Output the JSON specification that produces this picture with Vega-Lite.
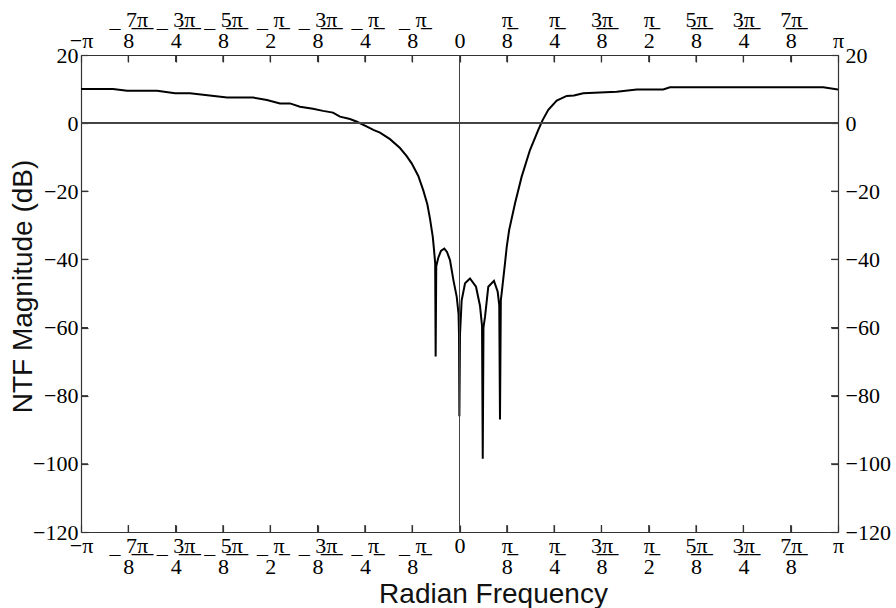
{
  "$schema": "https://vega.github.io/schema/vega-lite/v6.json",
  "width": 757,
  "height": 477,
  "autosize": "none",
  "padding": {"left": 81, "top": 55, "right": 58, "bottom": 76},
  "background": "white",
  "config": {
    "view": {"stroke": null},
    "axis": {
      "grid": false,
      "labelFont": "Liberation Serif",
      "labelFontSize": 22,
      "labelLineHeight": 21,
      "labelColor": "black",
      "domainColor": "#333",
      "domainWidth": 1.2,
      "tickColor": "#333",
      "tickWidth": 1.2,
      "tickSize": -7,
      "labelOverlap": false,
      "labelFlush": false,
      "labelBound": false,
      "titleFont": "Liberation Sans",
      "titleFontSize": 28,
      "titleFontWeight": "normal",
      "titleColor": "#111"
    }
  },
  "datasets": {
    "xticks": [
      {"w": -2.74889357}, {"w": -2.35619449}, {"w": -1.96349541}, {"w": -1.57079633},
      {"w": -1.17809725}, {"w": -0.78539816}, {"w": -0.39269908}, {"w": 0.39269908},
      {"w": 0.78539816}, {"w": 1.17809725}, {"w": 1.57079633}, {"w": 1.96349541},
      {"w": 2.35619449}, {"w": 2.74889357}
    ],
    "yticks": [
      {"db": -100}, {"db": -80}, {"db": -60}, {"db": -40}, {"db": -20}
    ]
  },
  "data": {"values": [
    {"w": -3.1416, "db": 10.0},
    {"w": -2.876, "db": 10.0},
    {"w": -2.759, "db": 9.5},
    {"w": -2.510, "db": 9.5},
    {"w": -2.361, "db": 8.8},
    {"w": -2.237, "db": 8.8},
    {"w": -1.929, "db": 7.5},
    {"w": -1.714, "db": 7.5},
    {"w": -1.598, "db": 6.8},
    {"w": -1.490, "db": 5.8},
    {"w": -1.407, "db": 5.8},
    {"w": -1.324, "db": 4.8},
    {"w": -1.216, "db": 4.2},
    {"w": -1.133, "db": 3.6},
    {"w": -1.050, "db": 3.1},
    {"w": -0.992, "db": 1.9},
    {"w": -0.909, "db": 1.2},
    {"w": -0.851, "db": 0.4},
    {"w": -0.768, "db": -1.0},
    {"w": -0.715, "db": -2.0},
    {"w": -0.660, "db": -2.8},
    {"w": -0.577, "db": -4.7},
    {"w": -0.494, "db": -7.3},
    {"w": -0.440, "db": -9.6},
    {"w": -0.397, "db": -11.8},
    {"w": -0.342, "db": -15.5},
    {"w": -0.300, "db": -19.8},
    {"w": -0.267, "db": -23.8},
    {"w": -0.245, "db": -28.0},
    {"w": -0.222, "db": -33.3},
    {"w": -0.212, "db": -37.0},
    {"w": -0.202, "db": -41.0},
    {"w": -0.198, "db": -68.5},
    {"w": -0.193, "db": -42.0},
    {"w": -0.176, "db": -39.5},
    {"w": -0.154, "db": -37.5},
    {"w": -0.126, "db": -36.8},
    {"w": -0.104, "db": -37.8},
    {"w": -0.079, "db": -40.2},
    {"w": -0.051, "db": -46.0},
    {"w": -0.023, "db": -51.0},
    {"w": -0.008, "db": -56.0},
    {"w": -0.004, "db": -62.0},
    {"w": -0.001, "db": -86.0},
    {"w": 0.004, "db": -62.0},
    {"w": 0.018, "db": -52.0},
    {"w": 0.046, "db": -47.0},
    {"w": 0.087, "db": -45.6},
    {"w": 0.137, "db": -48.0},
    {"w": 0.170, "db": -53.6},
    {"w": 0.187, "db": -59.5},
    {"w": 0.193, "db": -98.5},
    {"w": 0.199, "db": -60.0},
    {"w": 0.212, "db": -56.8},
    {"w": 0.239, "db": -48.0},
    {"w": 0.286, "db": -46.3},
    {"w": 0.317, "db": -49.5},
    {"w": 0.330, "db": -53.5},
    {"w": 0.336, "db": -87.0},
    {"w": 0.343, "db": -52.0},
    {"w": 0.350, "db": -49.9},
    {"w": 0.378, "db": -41.0},
    {"w": 0.392, "db": -36.3},
    {"w": 0.412, "db": -31.4},
    {"w": 0.461, "db": -23.5},
    {"w": 0.516, "db": -15.7},
    {"w": 0.585, "db": -7.9},
    {"w": 0.654, "db": -2.0},
    {"w": 0.690, "db": 0.9},
    {"w": 0.737, "db": 3.9},
    {"w": 0.807, "db": 6.6},
    {"w": 0.890, "db": 8.0},
    {"w": 0.950, "db": 8.1},
    {"w": 1.027, "db": 8.8},
    {"w": 1.305, "db": 9.2},
    {"w": 1.471, "db": 9.9},
    {"w": 1.691, "db": 9.9},
    {"w": 1.747, "db": 10.5},
    {"w": 3.019, "db": 10.5},
    {"w": 3.1416, "db": 9.9}
  ]},
  "layer": [
    {
      "mark": {"type": "line", "color": "black", "strokeWidth": 2, "clip": true},
      "encoding": {
        "x": {
          "field": "w", "type": "quantitative",
          "scale": {"domain": [-3.14159265, 3.14159265], "nice": false, "zero": false},
          "axis": {
            "orient": "bottom",
            "title": "Radian Frequency",
            "titleX": 412,
            "titleY": 70,
            "titleAlign": "center",
            "titleBaseline": "alphabetic",
            "labelFontSize": 22,
            "labelPadding": 10,
            "values": [-3.14159265, -2.74889357, -2.35619449, -1.96349541, -1.57079633, -1.17809725, -0.78539816, -0.39269908, 0, 0.39269908, 0.78539816, 1.17809725, 1.57079633, 1.96349541, 2.35619449, 2.74889357, 3.14159265],
            "labelExpr": "[['\u2212\u03c0'],['_\u00a07\u0332\u03c0\u0332','\u00a0\u00a0\u00a08'],['_\u00a03\u0332\u03c0\u0332','\u00a0\u00a0\u00a04'],['_\u00a05\u0332\u03c0\u0332','\u00a0\u00a0\u00a08'],['_\u00a0\u03c0\u0332','\u00a0\u00a0\u00a02'],['_\u00a03\u0332\u03c0\u0332','\u00a0\u00a0\u00a08'],['_\u00a0\u03c0\u0332','\u00a0\u00a0\u00a04'],['_\u00a0\u03c0\u0332','\u00a0\u00a0\u00a08'],['0'],['\u03c0\u0332','8'],['\u03c0\u0332','4'],['3\u0332\u03c0\u0332','8'],['\u03c0\u0332','2'],['5\u0332\u03c0\u0332','8'],['3\u0332\u03c0\u0332','4'],['7\u0332\u03c0\u0332','8'],['\u03c0']][round(datum.value*8/PI)+8]"
          }
        },
        "y": {
          "field": "db", "type": "quantitative",
          "scale": {"domain": [-120, 20], "nice": false, "zero": false},
          "axis": {
            "orient": "left",
            "title": "NTF Magnitude (dB)",
            "titleAngle": -90,
            "titleX": -50,
            "titleY": 231,
            "titleAlign": "center",
            "titleBaseline": "alphabetic",
            "labelFontSize": 22,
            "labelPadding": 10,
            "values": [-120, -100, -80, -60, -40, -20, 0, 20],
            "labelExpr": "replace(datum.label, '-', '\u2212')"
          }
        }
      }
    },
    {
      "mark": {"type": "rule", "color": "#444", "strokeWidth": 1},
      "encoding": {
        "y": {
          "datum": 0, "type": "quantitative",
          "axis": {
            "orient": "right",
            "title": null,
            "labelFontSize": 22,
            "labelPadding": 14,
            "values": [-120, -100, -80, -60, -40, -20, 0, 20],
            "labelExpr": "replace(datum.label, '-', '\u2212')"
          }
        }
      }
    },
    {
      "mark": {"type": "rule", "color": "#444", "strokeWidth": 1},
      "encoding": {
        "x": {
          "datum": 0, "type": "quantitative",
          "axis": {
            "orient": "top",
            "title": null,
            "labelFontSize": 22,
            "labelPadding": 31,
            "values": [-3.14159265, -2.74889357, -2.35619449, -1.96349541, -1.57079633, -1.17809725, -0.78539816, -0.39269908, 0, 0.39269908, 0.78539816, 1.17809725, 1.57079633, 1.96349541, 2.35619449, 2.74889357, 3.14159265],
            "labelExpr": "[['','\u2212\u03c0'],['_\u00a07\u0332\u03c0\u0332','\u00a0\u00a0\u00a08'],['_\u00a03\u0332\u03c0\u0332','\u00a0\u00a0\u00a04'],['_\u00a05\u0332\u03c0\u0332','\u00a0\u00a0\u00a08'],['_\u00a0\u03c0\u0332','\u00a0\u00a0\u00a02'],['_\u00a03\u0332\u03c0\u0332','\u00a0\u00a0\u00a08'],['_\u00a0\u03c0\u0332','\u00a0\u00a0\u00a04'],['_\u00a0\u03c0\u0332','\u00a0\u00a0\u00a08'],['','0'],['\u03c0\u0332','8'],['\u03c0\u0332','4'],['3\u0332\u03c0\u0332','8'],['\u03c0\u0332','2'],['5\u0332\u03c0\u0332','8'],['3\u0332\u03c0\u0332','4'],['7\u0332\u03c0\u0332','8'],['','\u03c0']][round(datum.value*8/PI)+8]"
          }
        }
      }
    },
    {
      "data": {"name": "xticks"},
      "mark": {"type": "rule", "color": "#333", "strokeWidth": 1.2},
      "encoding": {
        "x": {"field": "w", "type": "quantitative", "axis": null},
        "y": {"datum": -120, "type": "quantitative", "axis": null},
        "y2": {"datum": -117.95}
      }
    },
    {
      "data": {"name": "xticks"},
      "mark": {"type": "rule", "color": "#333", "strokeWidth": 1.2},
      "encoding": {
        "x": {"field": "w", "type": "quantitative", "axis": null},
        "y": {"datum": 20, "type": "quantitative", "axis": null},
        "y2": {"datum": 17.95}
      }
    },
    {
      "data": {"name": "yticks"},
      "mark": {"type": "rule", "color": "#333", "strokeWidth": 1.2},
      "encoding": {
        "y": {"field": "db", "type": "quantitative", "axis": null},
        "x": {"datum": -3.14159265, "type": "quantitative", "axis": null},
        "x2": {"datum": -3.0835}
      }
    },
    {
      "data": {"name": "yticks"},
      "mark": {"type": "rule", "color": "#333", "strokeWidth": 1.2},
      "encoding": {
        "y": {"field": "db", "type": "quantitative", "axis": null},
        "x": {"datum": 3.14159265, "type": "quantitative", "axis": null},
        "x2": {"datum": 3.0835}
      }
    }
  ],
  "resolve": {"axis": {"x": "independent", "y": "independent"}}
}
